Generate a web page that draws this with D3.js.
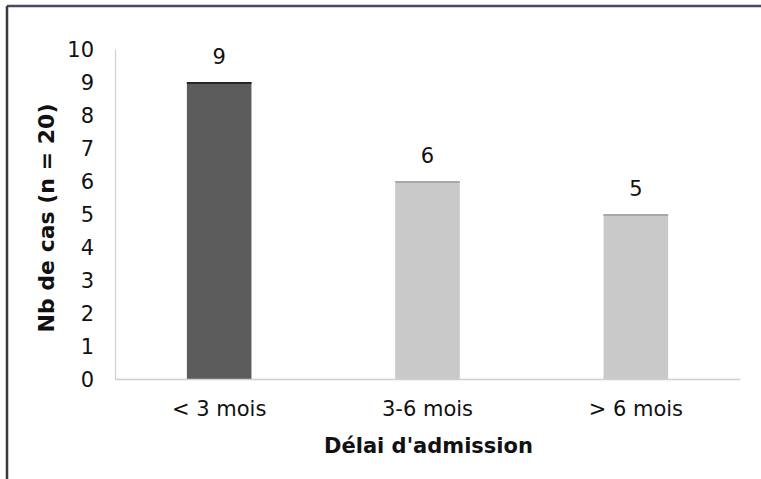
<!DOCTYPE html>
<html>
<head>
<meta charset="utf-8">
<script src="https://cdn.jsdelivr.net/npm/d3@7"></script>
<style>
  html, body { margin: 0; padding: 0; background: #fff; }
  svg { display: block; }
  text { font-family: "DejaVu Sans", Verdana, sans-serif; fill: #111; }
</style>
</head>
<body>
<svg id="chart" width="761" height="479"></svg>
<script>
const categories = ["< 3 mois", "3-6 mois", "> 6 mois"];
const values = [9, 6, 5];
const barColors = ["#5c5c5c", "#c9c9c9", "#c9c9c9"];
const barEdges = ["#262626", "#a8a8a8", "#a8a8a8"];
const yTicks = [0, 1, 2, 3, 4, 5, 6, 7, 8, 9, 10];
const xTitle = "Délai d'admission";
const yTitle = "Nb de cas (n = 20)";

(function () {
const svg = d3.select("#chart");
const W = 761, H = 479;
const mLeft = 115, mRight = 740, mTop = 49, mBottom = 379;

svg.append("rect").attr("x", 0).attr("y", 0).attr("width", W).attr("height", H).attr("fill", "#fff");
// outer frame (top and left visible)
svg.append("line").attr("x1", 7).attr("x2", W).attr("y1", 6).attr("y2", 6)
  .attr("stroke", "#4a4a66").attr("stroke-width", 2.5);
svg.append("line").attr("x1", 7).attr("x2", 7).attr("y1", 6).attr("y2", H)
  .attr("stroke", "#3a3a3a").attr("stroke-width", 2.5);

const x = d3.scaleBand().domain(categories).range([mLeft, mRight]).paddingInner(0.69).paddingOuter(0.345);
const y = d3.scaleLinear().domain([0, 10]).range([mBottom, mTop]);

// y axis
const yAxis = d3.axisLeft(y).tickValues(yTicks).tickSize(0).tickPadding(21).tickFormat(d3.format("d"));
const gy = svg.append("g").attr("transform", `translate(${mLeft},0)`).call(yAxis);
gy.select(".domain").attr("stroke", "#d0d0d0").attr("stroke-width", 1.2);
gy.selectAll("text").attr("font-size", 21).attr("fill", "#111").attr("dy", "0.36em");

// bars
svg.append("g").selectAll("rect").data(values).join("rect")
  .attr("x", (d, i) => x(categories[i]))
  .attr("y", d => y(d))
  .attr("width", x.bandwidth())
  .attr("height", d => y(0) - y(d))
  .attr("fill", (d, i) => barColors[i]);
// bar top edges
svg.append("g").selectAll("line").data(values).join("line")
  .attr("x1", (d, i) => x(categories[i]))
  .attr("x2", (d, i) => x(categories[i]) + x.bandwidth())
  .attr("y1", d => y(d) + 1).attr("y2", d => y(d) + 1)
  .attr("stroke", (d, i) => barEdges[i]).attr("stroke-width", 2);

// x axis
const xAxis = d3.axisBottom(x).tickSize(0).tickPadding(22);
const gx = svg.append("g").attr("transform", `translate(0,${mBottom})`).call(xAxis);
gx.select(".domain").attr("stroke", "#cfcfcf").attr("stroke-width", 1.5);
gx.selectAll("text").attr("font-size", 21).attr("fill", "#111");

// value labels
svg.append("g").selectAll("text").data(values).join("text")
  .attr("x", (d, i) => x(categories[i]) + x.bandwidth() / 2)
  .attr("y", d => y(d) - 18)
  .attr("text-anchor", "middle")
  .attr("font-size", 21)
  .text(d => d);

// titles
svg.append("text").attr("x", (mLeft + mRight) / 2 + 1).attr("y", 453)
  .attr("text-anchor", "middle").attr("font-size", 21).attr("font-weight", "bold")
  .text(xTitle);
svg.append("text").attr("transform", "translate(54,218) rotate(-90)")
  .attr("text-anchor", "middle").attr("font-size", 22).attr("font-weight", "bold")
  .text(yTitle);
})();
</script>
</body>
</html>
